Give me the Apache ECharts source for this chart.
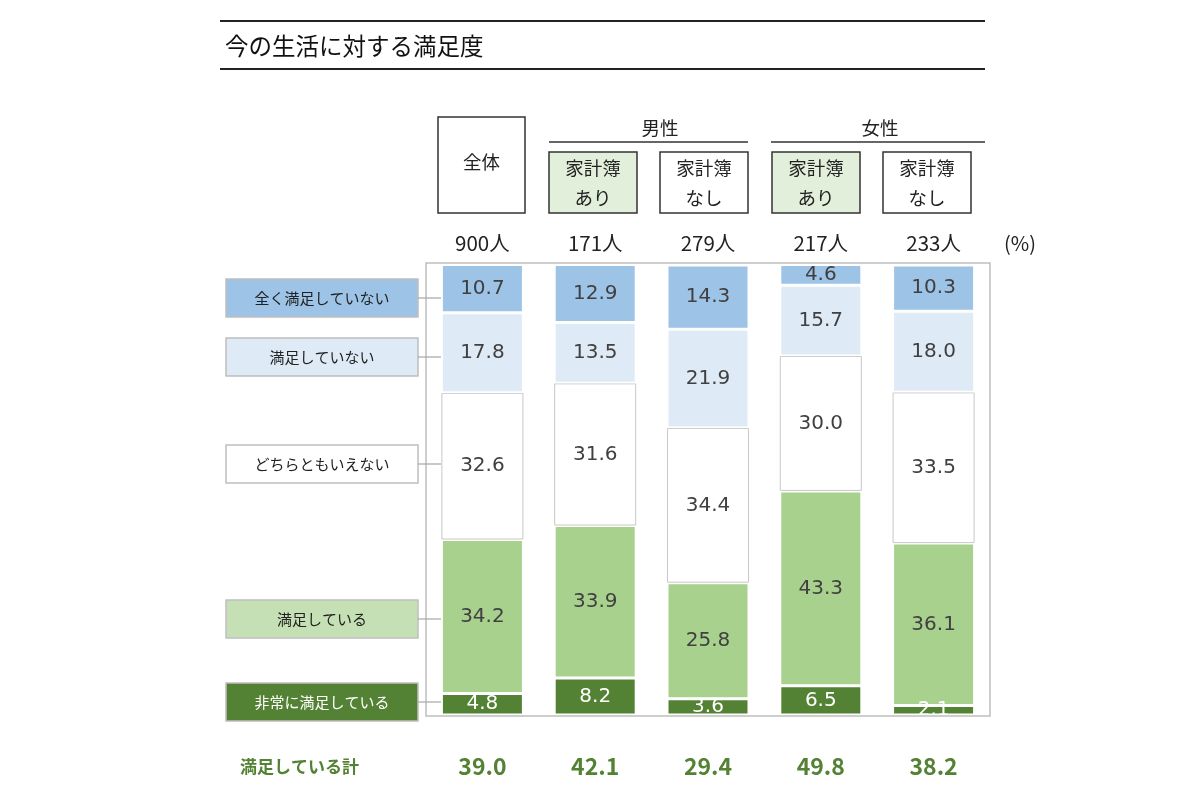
<!DOCTYPE html>
<html><head><meta charset="utf-8">
<script src="https://cdn.jsdelivr.net/npm/echarts@6/dist/echarts.min.js"></script>
<style>html,body{margin:0;padding:0;background:#fff}#c{width:1200px;height:800px}</style>
</head><body><div id="c"></div>
<script>
const categories = ['全体', '男性・家計簿あり', '男性・家計簿なし', '女性・家計簿あり', '女性・家計簿なし'];
const sampleSizes = ['900人', '171人', '279人', '217人', '233人'];
const satisfiedTotal = ['39.0', '42.1', '29.4', '49.8', '38.2'];
const verySatisfied = [4.8, 8.2, 3.6, 6.5, 2.1];
const satisfied = [34.2, 33.9, 25.8, 43.3, 36.1];
const neither = [32.6, 31.6, 34.4, 30.0, 33.5];
const dissatisfied = [17.8, 13.5, 21.9, 15.7, 18.0];
const veryDissatisfied = [10.7, 12.9, 14.3, 4.6, 10.3];
const seriesNames = ['非常に満足している', '満足している', 'どちらともいえない', '満足していない', '全く満足していない'];

const FONT = '"Noto Sans CJK JP", "Noto Sans", sans-serif';
const NUMFONT = '"DejaVu Sans", Verdana, sans-serif';
const chart = echarts.init(document.getElementById('c'));

function lbl(color) {
  return { show: true, position: 'inside', color: color, fontSize: 20, fontFamily: NUMFONT,
           formatter: p => p.value.toFixed(1) };
}
const colors = ['#548235', '#A9D18E', '#FFFFFF', '#DEEBF7', '#9DC3E6'];
const datasets = [verySatisfied, satisfied, neither, dissatisfied, veryDissatisfied];

const series = datasets.map((d, i) => ({
  name: seriesNames[i], type: 'bar', stack: 'total', barWidth: 82, data: d,
  itemStyle: { color: colors[i], borderColor: i === 2 ? '#c8c8c8' : '#ffffff', borderWidth: i === 2 ? 1 : 1.5 },
  label: lbl(i === 0 ? '#ffffff' : '#404040'),
  emphasis: { disabled: true }
}));

const g = [];
g.push({ type: 'line', shape: { x1: 220, y1: 21, x2: 985, y2: 21 }, style: { stroke: '#222', lineWidth: 2 } });
g.push({ type: 'line', shape: { x1: 220, y1: 69, x2: 985, y2: 69 }, style: { stroke: '#222', lineWidth: 2 } });
g.push({ type: 'text', x: 225, y: 46, style: { text: '今の生活に対する満足度', fontSize: 23.5, fontFamily: FONT, fill: '#111', verticalAlign: 'middle' } });
g.push({ type: 'rect', shape: { x: 426, y: 263, width: 564, height: 453 }, style: { fill: 'none', stroke: '#bfbfbf', lineWidth: 1.5 }, z: 10 });
const hb = [
  { x: 438, y: 117, w: 87, h: 96, fill: '#fff', t: '全体' },
  { x: 549, y: 152, w: 88, h: 61, fill: '#E2EFDA', t: '家計簿\nあり' },
  { x: 660, y: 152, w: 88, h: 61, fill: '#fff', t: '家計簿\nなし' },
  { x: 772, y: 152, w: 88, h: 61, fill: '#E2EFDA', t: '家計簿\nあり' },
  { x: 883, y: 152, w: 88, h: 61, fill: '#fff', t: '家計簿\nなし' }
];
hb.forEach(b => {
  g.push({ type: 'rect', shape: { x: b.x, y: b.y, width: b.w, height: b.h }, style: { fill: b.fill, stroke: '#333', lineWidth: 1.5 } });
  g.push({ type: 'text', x: b.x + b.w / 2, y: b.t === '全体' ? 162 : b.y + b.h / 2,
    style: { text: b.t, fontSize: 18.5, fontFamily: FONT, fill: '#222', align: 'center', verticalAlign: 'middle', lineHeight: 30 } });
});
g.push({ type: 'text', x: 660, y: 128, style: { text: '男性', fontSize: 18.5, fontFamily: FONT, fill: '#222', align: 'center', verticalAlign: 'middle' } });
g.push({ type: 'line', shape: { x1: 549, y1: 142, x2: 748, y2: 142 }, style: { stroke: '#333', lineWidth: 1.5 } });
g.push({ type: 'text', x: 880, y: 128, style: { text: '女性', fontSize: 18.5, fontFamily: FONT, fill: '#222', align: 'center', verticalAlign: 'middle' } });
g.push({ type: 'line', shape: { x1: 771, y1: 142, x2: 985, y2: 142 }, style: { stroke: '#333', lineWidth: 1.5 } });
g.push({ type: 'text', x: 1020, y: 243, style: { text: '(%)', fontSize: 20, fontFamily: FONT, fill: '#222', align: 'center', verticalAlign: 'middle' } });
const lb = [
  { cy: 298, fill: '#9DC3E6', tc: '#222', t: '全く満足していない' },
  { cy: 357, fill: '#DEEBF7', tc: '#222', t: '満足していない' },
  { cy: 464, fill: '#FFFFFF', tc: '#222', t: 'どちらともいえない' },
  { cy: 619, fill: '#C5E0B4', tc: '#222', t: '満足している' },
  { cy: 702, fill: '#548235', tc: '#fff', t: '非常に満足している' }
];
lb.forEach(b => {
  g.push({ type: 'line', shape: { x1: 418, y1: b.cy, x2: 441, y2: b.cy }, style: { stroke: '#a6a6a6', lineWidth: 1.2 }, z: 11 });
  g.push({ type: 'rect', shape: { x: 226, y: b.cy - 19, width: 192, height: 38 }, style: { fill: b.fill, stroke: '#bfbfbf', lineWidth: 1.5 } });
  g.push({ type: 'text', x: 322, y: b.cy, style: { text: b.t, fontSize: 15, fontFamily: FONT, fill: b.tc, align: 'center', verticalAlign: 'middle' } });
});
g.push({ type: 'text', x: 240, y: 767, style: { text: '満足している計', fontSize: 17, fontWeight: 'bold', fontFamily: FONT, fill: '#548235', align: 'left', verticalAlign: 'middle' } });

chart.setOption({
  animation: false,
  grid: { left: 426, right: 210, top: 265, bottom: 85 },
  xAxis: [
    { type: 'category', data: categories, position: 'bottom', axisLine: { show: false }, axisTick: { show: false },
      axisLabel: { margin: 40, fontSize: 23, fontWeight: 'bold', color: '#548235', fontFamily: FONT,
        formatter: (v, i) => satisfiedTotal[i] } },
    { type: 'category', data: categories, position: 'top', axisLine: { show: false }, axisTick: { show: false },
      axisLabel: { margin: 12, fontSize: 20.5, color: '#222', fontFamily: FONT,
        formatter: (v, i) => sampleSizes[i] } }
  ],
  yAxis: { type: 'value', min: 0, max: 100, show: false, splitLine: { show: false } },
  series: series,
  graphic: g
});
</script></body></html>
